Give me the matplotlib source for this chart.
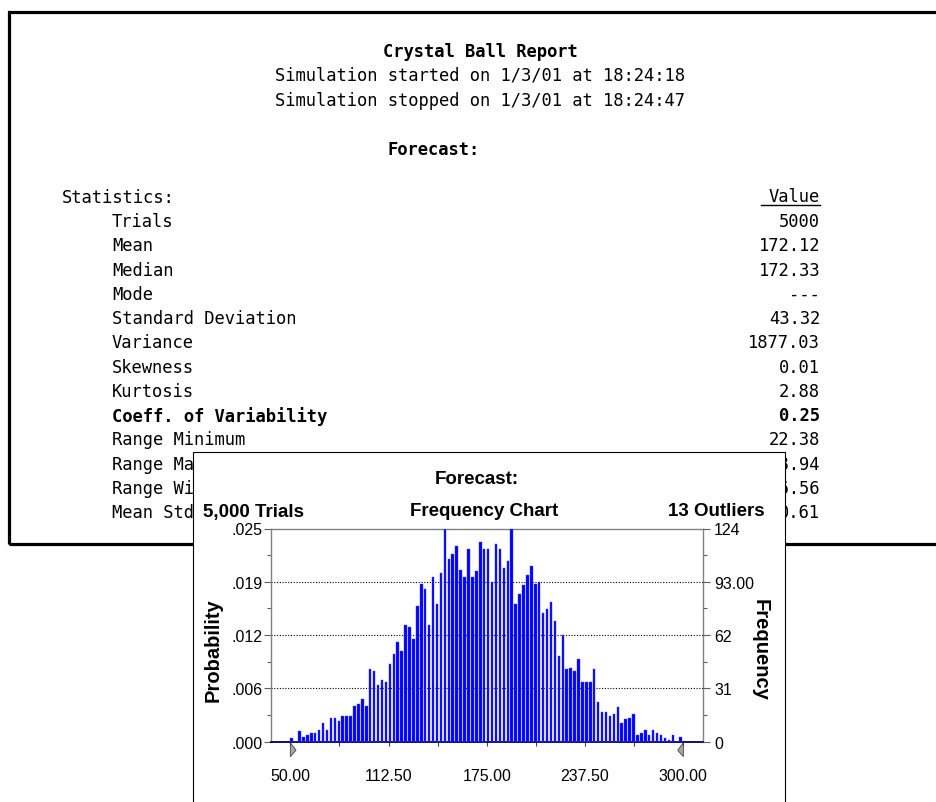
import matplotlib
matplotlib.use("Agg")
import matplotlib.pyplot as plt
from matplotlib.patches import Rectangle, Polygon
from matplotlib.lines import Line2D
from matplotlib.transforms import Bbox, TransformedBbox
import numpy as np

# ---------------- data ----------------
report_title = "Crystal Ball Report"
started = "Simulation started on 1/3/01 at 18:24:18"
stopped = "Simulation stopped on 1/3/01 at 18:24:47"
forecast_label = "Forecast:"

stat_names = ["Trials", "Mean", "Median", "Mode", "Standard Deviation", "Variance",
              "Skewness", "Kurtosis", "Coeff. of Variability", "Range Minimum",
              "Range Maximum", "Range Width", "Mean Std. Error"]
stat_values = ["5000", "172.12", "172.33", "---", "43.32", "1877.03",
               "0.01", "2.88", "0.25", "22.38", "338.94", "316.56", "0.61"]
bold_stat = "Coeff. of Variability"

bin_start = 50.0
bin_width = 2.5
counts = [2, 0, 6, 3, 4, 5, 5, 7, 11, 7, 14, 14, 12, 15, 15, 15, 21, 22, 25, 21,
          42, 41, 33, 36, 35, 45, 51, 58, 53, 68, 67, 60, 79,
          92, 89, 68, 96, 80, 98, 124, 106, 109, 114, 100, 96, 112, 96, 99, 116, 112,
          112, 93, 115, 112, 101, 105, 124, 80, 86, 91, 97, 102, 92, 93, 75, 77,
          81, 70, 50, 62, 42, 43, 41, 48, 35, 35, 35, 42, 23, 17, 17, 15, 16, 20,
          11, 13, 14, 16, 4, 5, 7, 4, 7, 5, 4, 2, 1, 4, 0, 3]

x_tick_vals = [50.0, 112.5, 175.0, 237.5, 300.0]
x_tick_labels = ["50.00", "112.50", "175.00", "237.50", "300.00"]
y_tick_counts = [0, 31, 62, 93, 124]
prob_labels = [".000", ".006", ".012", ".019", ".025"]
freq_labels = ["0", "31", "62", "93.00", "124"]

chart_title = "Forecast:"
trials_text = "5,000 Trials"
chart_name = "Frequency Chart"
outliers_text = "13 Outliers"

# ---------------- figure ----------------
W, H = 936, 803
fig = plt.figure(figsize=(W / 100, H / 100), dpi=100)
fig.patch.set_facecolor("white")

def fx(x):
    return x / W

def fy(y):
    return 1 - y / H

NARROW = ["Liberation Sans Narrow", "Liberation Sans", "DejaVu Sans"]
REP = ["DejaVu Sans Mono", "DejaVu Sans"]

# report box
fig.add_artist(Rectangle((fx(8.5), fy(545)), fx(940) - fx(8.5), fy(13) - fy(545),
                         transform=fig.transFigure, fill=False, lw=2.3,
                         edgecolor="black", zorder=1, clip_on=False))

rs = 12.3
fig.text(fx(480), fy(52), report_title, ha="center", va="center", fontsize=rs,
         fontweight="bold", family=REP, zorder=2)
fig.text(fx(480), fy(76), started, ha="center", va="center", fontsize=rs, family=REP, zorder=2)
fig.text(fx(480), fy(101), stopped, ha="center", va="center", fontsize=rs, family=REP, zorder=2)
fig.text(fx(434), fy(150), forecast_label, ha="center", va="center", fontsize=rs,
         fontweight="bold", family=REP, zorder=2)

fig.text(fx(62), fy(198), "Statistics:", ha="left", va="center", fontsize=rs, family=REP, zorder=2)
fig.text(fx(820), fy(197), "Value", ha="right", va="center", fontsize=rs, family=REP, zorder=2)
fig.add_artist(Line2D([fx(761), fx(820)], [fy(206), fy(206)], transform=fig.transFigure,
                      color="black", lw=1.0, zorder=2))

left_clip = TransformedBbox(Bbox([[0, 0], [fx(193), 1]]), fig.transFigure)
right_clip = TransformedBbox(Bbox([[fx(786), 0], [1, 1]]), fig.transFigure)

row0, dy = 222, 24.27
for i, (n, v) in enumerate(zip(stat_names, stat_values)):
    ypx = row0 + i * dy
    yy = fy(ypx)
    w = "bold" if n == bold_stat else "normal"
    t1 = fig.text(fx(112), yy, n, ha="left", va="center", fontsize=rs, fontweight=w,
                  family=REP, zorder=2)
    t2 = fig.text(fx(820), yy, v, ha="right", va="center", fontsize=rs, fontweight=w,
                  family=REP, zorder=2)
    if ypx > 455:
        t1.set_clip_box(left_clip)
        t1.set_clip_on(True)
        t2.set_clip_box(right_clip)
        t2.set_clip_on(True)

# chart panel
fig.add_artist(Rectangle((fx(193), fy(810)), fx(785) - fx(193), fy(453) - fy(810),
                         transform=fig.transFigure, facecolor="white", lw=0.8,
                         edgecolor="black", zorder=5, clip_on=False))

fs_t = 13.5
fig.text(fx(477), fy(480), chart_title, ha="center", va="center", fontsize=fs_t,
         fontweight="bold", family=NARROW, zorder=6)
fig.text(fx(203), fy(512), trials_text, ha="left", va="center", fontsize=fs_t,
         fontweight="bold", family=NARROW, zorder=6)
fig.text(fx(484), fy(512), chart_name, ha="center", va="center", fontsize=fs_t,
         fontweight="bold", family=NARROW, zorder=6)
fig.text(fx(765), fy(512), outliers_text, ha="right", va="center", fontsize=fs_t,
         fontweight="bold", family=NARROW, zorder=6)

ax_l, ax_r, ax_t, ax_b = 270.7, 703, 529.5, 742.7
ax = fig.add_axes([fx(ax_l), fy(ax_b), fx(ax_r) - fx(ax_l), fy(ax_t) - fy(ax_b)])
ax.set_zorder(10)
ax.patch.set_facecolor("white")

centers = bin_start + bin_width * np.arange(len(counts)) + 0.8
ax.bar(centers, counts, width=1.6, color="#0000ff", edgecolor="#4646ff",
       linewidth=0.3, zorder=3)

ax.set_xlim(37.5, 312.5)
ax.set_ylim(0, 124)

for c in y_tick_counts[1:4]:
    ax.axhline(c, color="black", lw=0.8, ls=(0, (1, 1.5)), zorder=1)

for s in ["left", "right", "top"]:
    ax.spines[s].set_color("#808080")
    ax.spines[s].set_linewidth(1.0)
ax.spines["bottom"].set_color("#000050")
ax.spines["bottom"].set_linewidth(1.3)

ax.set_yticks(y_tick_counts)
ax.set_yticklabels(prob_labels, family=NARROW, fontsize=11.5)
ax.set_yticks([15.5, 46.5, 77.5, 108.5], minor=True)
ax.tick_params(axis="y", which="major", length=5, width=0.8, color="#606060", pad=1)
ax.tick_params(axis="y", which="minor", length=3, width=0.8, color="#606060")

ax.set_xticks(x_tick_vals)
ax.set_xticklabels(x_tick_labels, family=NARROW, fontsize=11.5)
ax.set_xticks([81.25, 143.75, 206.25, 268.75], minor=True)
ax.tick_params(axis="x", which="major", length=3, width=0.8, color="#404040", pad=16)
ax.tick_params(axis="x", which="minor", length=3, width=0.8, color="#404040")

ax2 = ax.twinx()
ax2.set_ylim(0, 124)
ax2.set_yticks(y_tick_counts)
ax2.set_yticklabels(freq_labels, family=NARROW, fontsize=11.5)
ax2.set_yticks([15.5, 46.5, 77.5, 108.5], minor=True)
ax2.tick_params(axis="y", which="major", length=5, width=0.8, color="#606060", pad=3)
ax2.tick_params(axis="y", which="minor", length=3, width=0.8, color="#606060")
for s in ["left", "right", "top", "bottom"]:
    ax2.spines[s].set_visible(False)

ax.set_ylabel("Probability", family=["Liberation Sans", "DejaVu Sans"], fontweight="bold",
              fontsize=14.5, va="center")
ax.yaxis.set_label_coords(-0.134, 0.435)
ax2.set_ylabel("Frequency", family=["Liberation Sans", "DejaVu Sans"], fontweight="bold",
               fontsize=14.5, rotation=-90, va="center")
ax2.yaxis.set_label_coords(1.132, 0.435)

# end markers
tr = ax.get_xaxis_transform()
for xv, d in [(50.0, 1), (300.0, -1)]:
    poly = Polygon([(xv, -0.005), (xv, -0.07), (xv + d * 3.6, -0.04)], closed=True,
                   transform=tr, facecolor="#a8a8a8", edgecolor="#404040", lw=0.6,
                   clip_on=False, zorder=12)
    ax.add_patch(poly)

fig.savefig("out.png", dpi=100, facecolor="white")
